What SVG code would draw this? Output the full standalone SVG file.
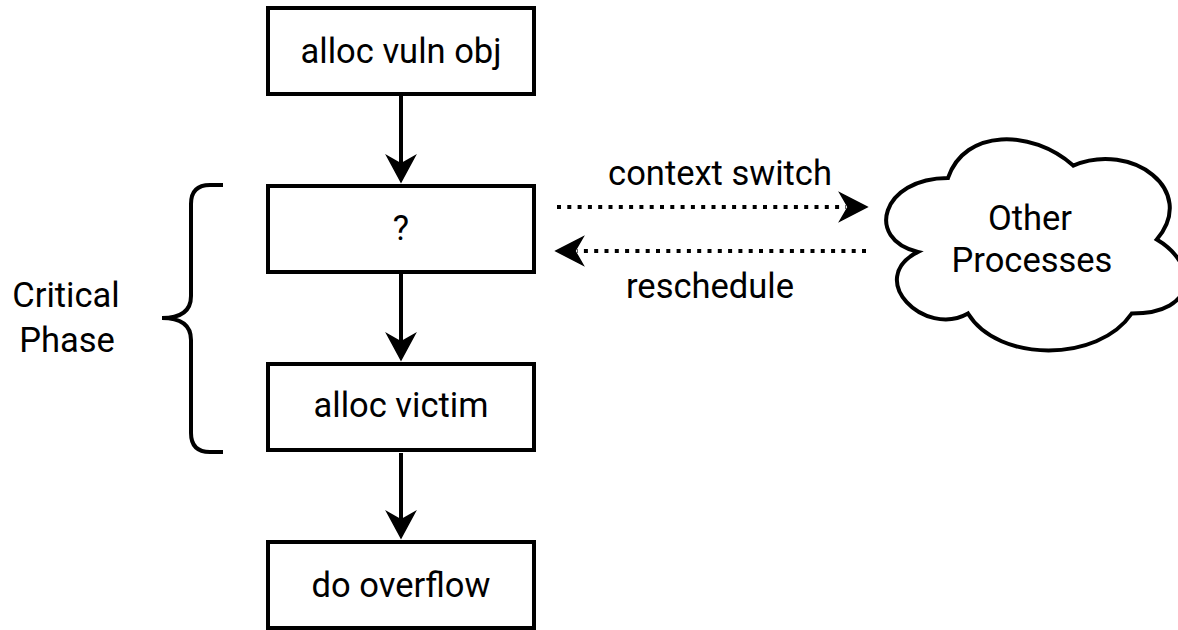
<svg xmlns="http://www.w3.org/2000/svg" width="1178" height="630" viewBox="0 0 1178 630">
<style>
.box{fill:#fff;stroke:#000;stroke-width:4}
.t{font-family:Roboto,"Liberation Sans",sans-serif;font-size:34.5px;fill:#000;text-anchor:middle}
.ln{fill:none;stroke:#000;stroke-width:4}
.dot{fill:none;stroke:#000;stroke-width:4;stroke-dasharray:4 6.3}
.head{fill:#000;stroke:#000;stroke-width:1.5;stroke-linejoin:miter}
</style>
<rect width="1178" height="630" fill="#fff"/>
<g id="connectors">
<line class="ln" x1="401" y1="96" x2="401" y2="165"/>
<polygon class="head" points="401,182 387,156 401,164 415,156"/>
<line class="ln" x1="401" y1="274" x2="401" y2="343"/>
<polygon class="head" points="401,360 387,334 401,342 415,334"/>
<line class="ln" x1="401" y1="453" x2="401" y2="521"/>
<polygon class="head" points="401,538 387,512 401,520 415,512"/>
<line class="dot" x1="557" y1="207" x2="846" y2="207"/>
<polygon class="head" points="867,207 840,193 848,207 840,221"/>
<line class="dot" x1="866" y1="251" x2="577" y2="251"/>
<polygon class="head" points="556,251 583,237 575,251 583,265"/>
<text class="t" x="720" y="185">context switch</text>
<text class="t" x="710" y="298">reschedule</text>
</g>
<g id="n1">
<rect class="box" x="268" y="8" width="266" height="86"/>
<text class="t" x="401" y="63">alloc vuln obj</text>
</g>
<g id="n2">
<rect class="box" x="268" y="186" width="266" height="86"/>
<text class="t" x="401" y="240">?</text>
</g>
<g id="n3">
<rect class="box" x="268" y="364" width="266" height="86"/>
<text class="t" x="401" y="417">alloc victim</text>
</g>
<g id="n4">
<rect class="box" x="268" y="542" width="266" height="86"/>
<text class="t" x="401" y="597">do overflow</text>
</g>
<g id="brace">
<path class="ln" d="M 223 185 L 210 185 Q 191 185 191 204 L 191 296 Q 191 318 162 318 Q 191 318 191 340 L 191 433 Q 191 452 210 452 L 223 452"/>
<text class="t" x="66" y="307">Critical</text>
<text class="t" x="67" y="352">Phase</text>
</g>
<g id="cloud">
<path class="ln" style="fill:#fff" d="M 948 177.9 C 881.2 177.9 864.5 239.55 917.94 251.9 C 864.5 279 924.6 338.15 968 313.5 C 998.1 362.8 1098.3 362.8 1131.7 313.5 C 1198.5 313.5 1198.5 264.2 1156.75 239.55 C 1198.5 190.25 1131.7 140.95 1073.25 165.6 C 1031.5 128.6 964.7 128.6 948 177.9 Z"/>
<text class="t" x="1030" y="230">Other</text>
<text class="t" x="1032" y="272">Processes</text>
</g>
</svg>
